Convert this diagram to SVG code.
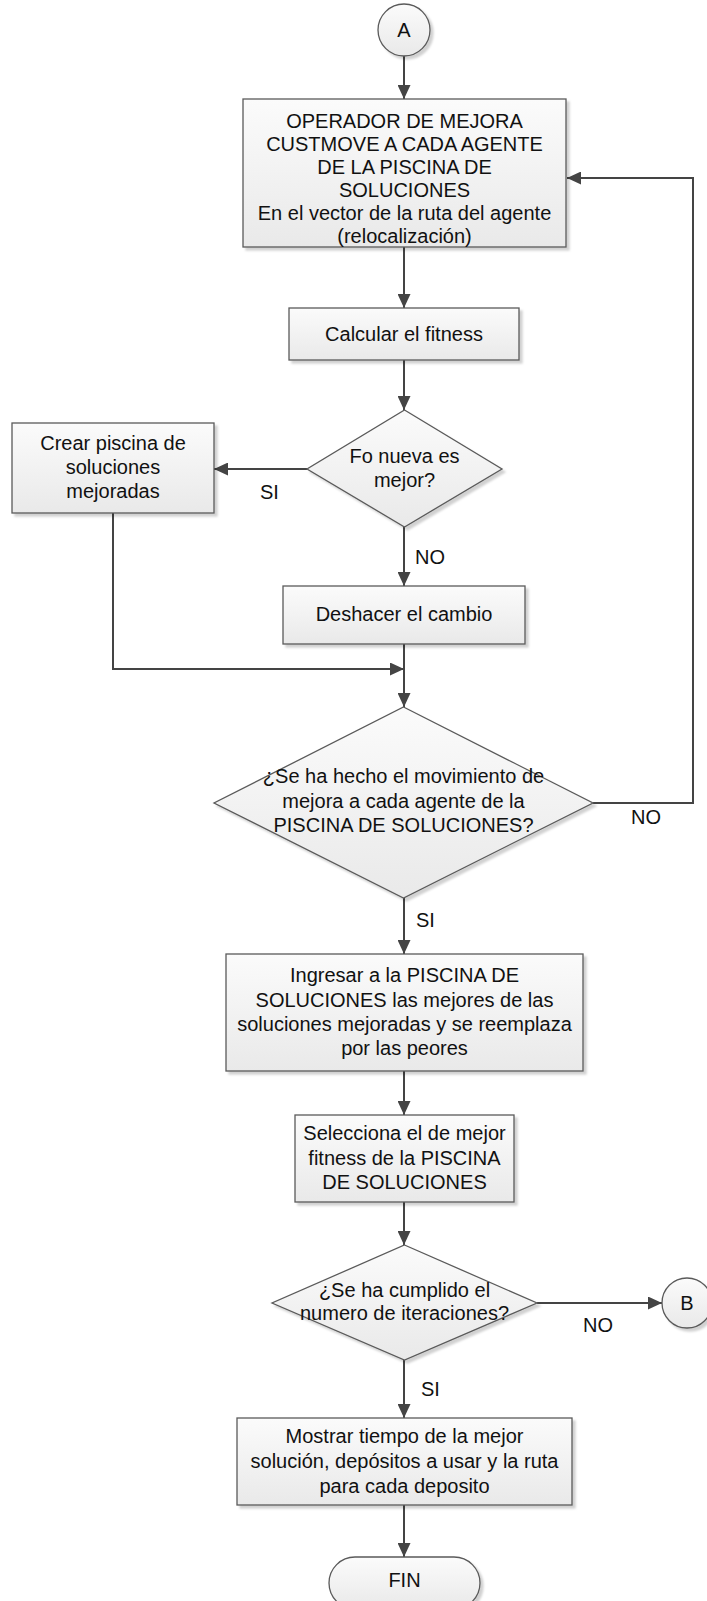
<svg xmlns="http://www.w3.org/2000/svg" width="707" height="1601" viewBox="0 0 707 1601">
  <style>
    .shape { fill: url(#fillGrad); stroke: #5a5a5a; stroke-width: 1.3; filter: url(#shadow); }
    .label { font-family: "Liberation Sans", Arial, sans-serif; font-size: 20px; fill: #111; text-anchor: middle; }
    .edge-label { font-family: "Liberation Sans", Arial, sans-serif; font-size: 20px; fill: #111; }
    .conn { fill: none; stroke: #444; stroke-width: 2; marker-end: url(#arrow); }
    .conn-plain { fill: none; stroke: #444; stroke-width: 2; }
  </style>
  <defs>
    <linearGradient id="fillGrad" x1="0" y1="0" x2="0" y2="1">
      <stop offset="0" stop-color="#fbfbfb"/>
      <stop offset="1" stop-color="#e9e9e9"/>
    </linearGradient>
    <filter id="shadow" x="-10%" y="-10%" width="125%" height="130%">
      <feDropShadow dx="3" dy="3" stdDeviation="1" flood-color="#000" flood-opacity="0.18"/>
    </filter>
    <marker id="arrow" markerUnits="userSpaceOnUse" markerWidth="14" markerHeight="13" refX="14" refY="6.5" orient="auto">
      <path d="M0,0 L14,6.5 L0,13 z" fill="#444"/>
    </marker>
  </defs>

  <!-- connectors -->
  <g id="connectors">
    <path class="conn" d="M404 56 V99"/>
    <path class="conn" d="M404 247 V308"/>
    <path class="conn" d="M404 360 V410"/>
    <path class="conn" d="M307 469 H214"/>
    <path class="conn" d="M404 527 V586"/>
    <path class="conn" d="M113 513 V669 H404"/>
    <path class="conn" d="M404 644 V707"/>
    <path class="conn" d="M593 803 H693 V178 H567"/>
    <path class="conn" d="M404 898 V954"/>
    <path class="conn" d="M404 1071 V1115"/>
    <path class="conn" d="M404 1202 V1245"/>
    <path class="conn" d="M537 1303 H662"/>
    <path class="conn" d="M404 1360 V1418"/>
    <path class="conn" d="M404 1505 V1557"/>
    <text class="edge-label" x="260" y="499">SI</text>
    <text class="edge-label" x="415" y="564">NO</text>
    <text class="edge-label" x="631" y="824">NO</text>
    <text class="edge-label" x="416" y="927">SI</text>
    <text class="edge-label" x="583" y="1332">NO</text>
    <text class="edge-label" x="421" y="1396">SI</text>
  </g>

  <g id="start-A">
    <circle class="shape" cx="404" cy="30" r="26"/>
    <text class="label" x="404" y="37">A</text>
  </g>

  <g id="operador">
    <rect class="shape" x="243" y="99" width="323" height="148"/>
    <text class="label" x="404.5" y="128">OPERADOR DE MEJORA</text>
    <text class="label" x="404.5" y="151">CUSTMOVE A CADA AGENTE</text>
    <text class="label" x="404.5" y="174">DE LA PISCINA DE</text>
    <text class="label" x="404.5" y="197">SOLUCIONES</text>
    <text class="label" x="404.5" y="220">En el vector de la ruta del agente</text>
    <text class="label" x="404.5" y="243">(relocalización)</text>
  </g>

  <g id="calcular">
    <rect class="shape" x="289" y="308" width="230" height="52"/>
    <text class="label" x="404" y="341">Calcular el fitness</text>
  </g>

  <g id="decision-fo">
    <polygon class="shape" points="404.5,410 502,469 404.5,527 307,469"/>
    <text class="label" x="404.5" y="463">Fo nueva es</text>
    <text class="label" x="404.5" y="487">mejor?</text>
  </g>

  <g id="crear">
    <rect class="shape" x="12" y="423" width="202" height="90"/>
    <text class="label" x="113" y="450">Crear piscina de</text>
    <text class="label" x="113" y="474">soluciones</text>
    <text class="label" x="113" y="498">mejoradas</text>
  </g>

  <g id="deshacer">
    <rect class="shape" x="283" y="586" width="242" height="58"/>
    <text class="label" x="404" y="621">Deshacer el cambio</text>
  </g>

  <g id="decision-movimiento">
    <polygon class="shape" points="403.5,707 593,803 403.5,898 214,803"/>
    <text class="label" x="403.5" y="783">¿Se ha hecho el movimiento de</text>
    <text class="label" x="403.5" y="808">mejora a cada agente de la</text>
    <text class="label" x="403.5" y="832">PISCINA DE SOLUCIONES?</text>
  </g>

  <g id="ingresar">
    <rect class="shape" x="226" y="954" width="357" height="117"/>
    <text class="label" x="404.5" y="982">Ingresar a la PISCINA DE</text>
    <text class="label" x="404.5" y="1007">SOLUCIONES las mejores de las</text>
    <text class="label" x="404.5" y="1031">soluciones mejoradas y se reemplaza</text>
    <text class="label" x="404.5" y="1055">por las peores</text>
  </g>

  <g id="selecciona">
    <rect class="shape" x="295" y="1115" width="219" height="87"/>
    <text class="label" x="404.5" y="1140">Selecciona el de mejor</text>
    <text class="label" x="404.5" y="1165">fitness de la PISCINA</text>
    <text class="label" x="404.5" y="1189">DE SOLUCIONES</text>
  </g>

  <g id="decision-iteraciones">
    <polygon class="shape" points="404.5,1245 537,1303 404.5,1360 272,1303"/>
    <text class="label" x="404.5" y="1297">¿Se ha cumplido el</text>
    <text class="label" x="404.5" y="1320">numero de iteraciones?</text>
  </g>

  <g id="connector-B">
    <circle class="shape" cx="687" cy="1303" r="25"/>
    <text class="label" x="687" y="1310">B</text>
  </g>

  <g id="mostrar">
    <rect class="shape" x="237" y="1418" width="335" height="87"/>
    <text class="label" x="404.5" y="1443">Mostrar tiempo de la mejor</text>
    <text class="label" x="404.5" y="1468">solución, depósitos a usar y la ruta</text>
    <text class="label" x="404.5" y="1493">para cada deposito</text>
  </g>

  <g id="fin">
    <rect class="shape" x="329" y="1557" width="151" height="52" rx="26" ry="26"/>
    <text class="label" x="404.5" y="1587">FIN</text>
  </g>
</svg>
